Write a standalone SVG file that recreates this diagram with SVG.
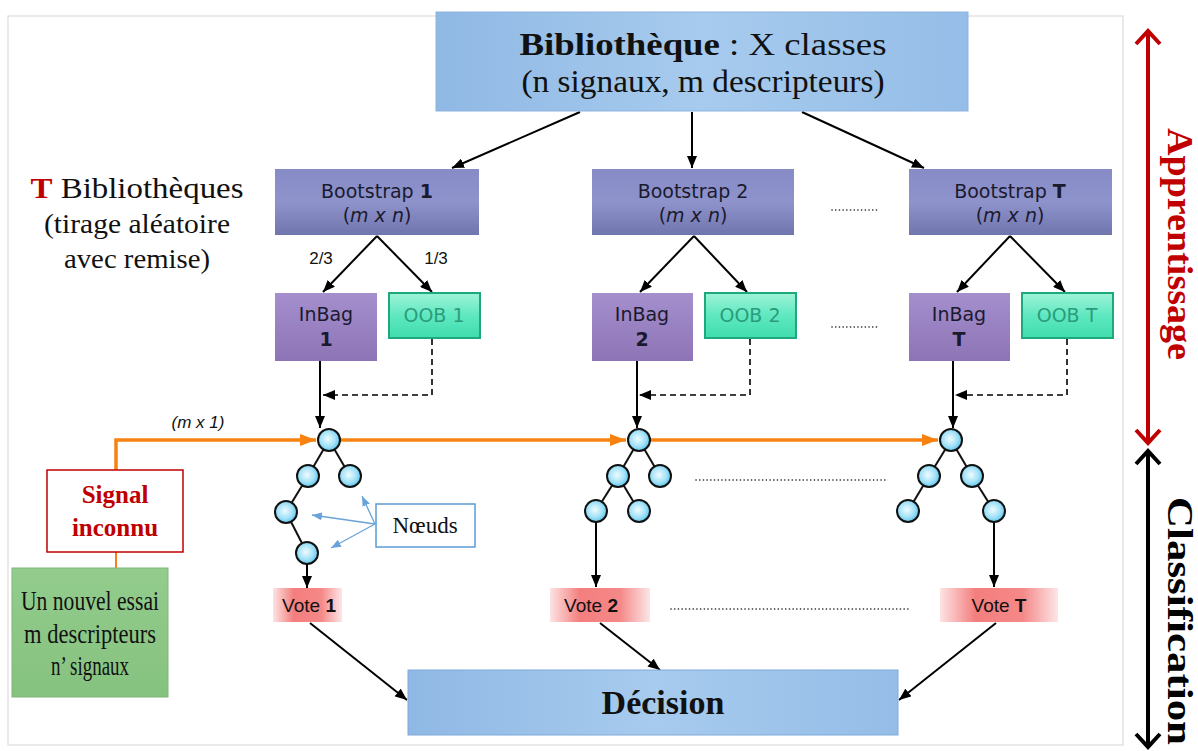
<svg xmlns="http://www.w3.org/2000/svg" width="1198" height="751" viewBox="0 0 1198 751">
<defs>
<style>
.sans{font-family:"DejaVu Sans",Verdana,sans-serif;font-size:19px;fill:#1a1a2e}
.arial{font-family:"Liberation Sans",Arial,sans-serif}
.serif{font-family:"Liberation Serif","Times New Roman",serif}
.conn{stroke:#000;stroke-width:2;fill:none}
.dash{stroke:#000;stroke-width:1.6;fill:none;stroke-dasharray:6 4}
.dots{stroke:#222;stroke-width:1.6;fill:none;stroke-dasharray:0.1 3.6;stroke-linecap:round}
.edge{stroke:#111;stroke-width:2}
.node{fill:url(#gNode);stroke:#111;stroke-width:2}
.orange{stroke:#f7820f;stroke-width:3.5;fill:none}
.blue{stroke:#6aa3d8;stroke-width:1.3;fill:none}
</style>
<linearGradient id="gTop" x1="0" y1="0" x2="1" y2="0">
<stop offset="0" stop-color="#8fb8e4"/><stop offset="0.5" stop-color="#a7cbee"/><stop offset="1" stop-color="#95bde7"/>
</linearGradient>
<linearGradient id="gBoot" x1="0" y1="0" x2="0" y2="1">
<stop offset="0" stop-color="#878bc6"/><stop offset="0.5" stop-color="#8f93cc"/><stop offset="1" stop-color="#7175ad"/>
</linearGradient>
<linearGradient id="gIn" x1="0" y1="0" x2="0" y2="1">
<stop offset="0" stop-color="#a58fcd"/><stop offset="1" stop-color="#8d74b6"/>
</linearGradient>
<linearGradient id="gOob" x1="0" y1="0" x2="0" y2="1">
<stop offset="0" stop-color="#9ff3d8"/><stop offset="0.5" stop-color="#5fe8c0"/><stop offset="1" stop-color="#3fdcae"/>
</linearGradient>
<linearGradient id="gVote" x1="0" y1="0" x2="1" y2="0">
<stop offset="0" stop-color="#fde3e3"/><stop offset="0.3" stop-color="#f47e7e"/><stop offset="0.7" stop-color="#f58888"/><stop offset="1" stop-color="#fde6e6"/>
</linearGradient>
<linearGradient id="gGreen" x1="0" y1="0" x2="0" y2="1">
<stop offset="0" stop-color="#93cc8d"/><stop offset="1" stop-color="#86c27f"/>
</linearGradient>
<radialGradient id="gNode" cx="0.45" cy="0.45" r="0.6">
<stop offset="0" stop-color="#effcff"/><stop offset="0.6" stop-color="#9fe0f7"/><stop offset="1" stop-color="#4bbfe9"/>
</radialGradient>
<marker id="ah" viewBox="0 0 12 10" refX="12" refY="5" markerWidth="12" markerHeight="10" markerUnits="userSpaceOnUse" orient="auto"><path d="M0,0 L12,5 L0,10 z" fill="#000"/></marker>
<marker id="ahO" viewBox="0 0 16 12" refX="16" refY="6" markerWidth="16" markerHeight="12" markerUnits="userSpaceOnUse" orient="auto"><path d="M0,0 L16,6 L0,12 z" fill="#f7820f"/></marker>
<marker id="ahB" viewBox="0 0 10 8" refX="10" refY="4" markerWidth="10" markerHeight="8" markerUnits="userSpaceOnUse" orient="auto"><path d="M0,0 L10,4 L0,8 z" fill="#6aa3d8"/></marker>
</defs>
<rect width="1198" height="751" fill="#fff"/>
<rect x="8" y="16" width="1115" height="729" fill="none" stroke="#dcdcdc" stroke-width="1.2"/>

<g id="connectors">
<path class="conn" d="M580,112 L452,168" marker-end="url(#ah)"/>
<path class="conn" d="M692,112 L692,168" marker-end="url(#ah)"/>
<path class="conn" d="M802,112 L924,168" marker-end="url(#ah)"/>
<path class="conn" d="M377,236 L323,292" marker-end="url(#ah)"/>
<path class="conn" d="M377,236 L432,292" marker-end="url(#ah)"/>
<path class="conn" d="M694,236 L640,292" marker-end="url(#ah)"/>
<path class="conn" d="M694,236 L747,292" marker-end="url(#ah)"/>
<path class="conn" d="M1010,236 L957,292" marker-end="url(#ah)"/>
<path class="conn" d="M1010,236 L1065,292" marker-end="url(#ah)"/>
<path class="conn" d="M320,361 L320,428" marker-end="url(#ah)"/>
<path class="conn" d="M637,361 L637,428" marker-end="url(#ah)"/>
<path class="conn" d="M953,361 L953,428" marker-end="url(#ah)"/>
<path class="dash" d="M432,339 L432,395 L323,395" marker-end="url(#ah)"/>
<path class="dash" d="M750,339 L750,395 L639,395" marker-end="url(#ah)"/>
<path class="dash" d="M1067,339 L1067,395 L955,395" marker-end="url(#ah)"/>
<path class="orange" d="M116,470 L116,440 L316,440" marker-end="url(#ahO)"/>
<path class="orange" d="M340,440 L626,440" marker-end="url(#ahO)"/>
<path class="orange" d="M650,440 L938,440" marker-end="url(#ahO)"/>
<path d="M116,552 L116,568" stroke="#f7820f" stroke-width="2"/>
<path class="conn" d="M307,564 L307,588" marker-end="url(#ah)"/>
<path class="conn" d="M596,522 L596,587" marker-end="url(#ah)"/>
<path class="conn" d="M994,522 L994,587" marker-end="url(#ah)"/>
<path class="conn" d="M310,623 L407,700" marker-end="url(#ah)"/>
<path class="conn" d="M600,623 L660,670" marker-end="url(#ah)"/>
<path class="conn" d="M996,623 L899,700" marker-end="url(#ah)"/>
<path class="blue" d="M375,524 L362,496" marker-end="url(#ahB)"/>
<path class="blue" d="M375,524 L312,515" marker-end="url(#ahB)"/>
<path class="blue" d="M375,524 L331,548" marker-end="url(#ahB)"/>
<path class="dots" d="M832,210 L880,210"/>
<path class="dots" d="M832,327 L880,327"/>
<path class="dots" d="M696,480 L885,480"/>
<path class="dots" d="M671,609 L908,609"/>
<path d="M1148,31 L1148,443" stroke="#c00000" stroke-width="4"/>
<path d="M1136,44 L1148,31 L1160,44 M1136,430 L1148,443 L1160,430" stroke="#c00000" stroke-width="4" fill="none"/>
<path d="M1148,451 L1148,747" stroke="#000" stroke-width="4"/>
<path d="M1136,464 L1148,451 L1160,464 M1136,734 L1148,747 L1160,734" stroke="#000" stroke-width="4" fill="none"/>
</g>

<g id="bibliotheque">
<rect x="436" y="12" width="532" height="99" fill="url(#gTop)" stroke="#8db3de" stroke-width="1"/>
<text class="serif" x="703" y="55" font-size="31" text-anchor="middle" fill="#111" textLength="367" lengthAdjust="spacingAndGlyphs"><tspan font-weight="bold">Bibliothèque</tspan> : X classes</text>
<text class="serif" x="703" y="92" font-size="31" text-anchor="middle" fill="#111" textLength="363" lengthAdjust="spacingAndGlyphs">(n signaux, m descripteurs)</text>
</g>

<g id="t-bibliotheques">
<text class="serif" x="137" y="198" font-size="30" text-anchor="middle" fill="#111" textLength="213" lengthAdjust="spacingAndGlyphs"><tspan font-weight="bold" fill="#c00000">T</tspan> Bibliothèques</text>
<text class="serif" x="137" y="233" font-size="28" text-anchor="middle" fill="#111" textLength="186" lengthAdjust="spacingAndGlyphs">(tirage aléatoire</text>
<text class="serif" x="137" y="268" font-size="28" text-anchor="middle" fill="#111" textLength="146" lengthAdjust="spacingAndGlyphs">avec remise)</text>
</g>

<g id="bootstrap1">
<rect x="275" y="169" width="204" height="66" fill="url(#gBoot)"/>
<text class="sans" x="377" y="198" text-anchor="middle">Bootstrap <tspan font-weight="bold">1</tspan></text>
<text class="sans" x="377" y="222" text-anchor="middle">(<tspan font-style="italic">m  x  n</tspan>)</text>
</g>
<g id="bootstrap2">
<rect x="592" y="169" width="202" height="66" fill="url(#gBoot)"/>
<text class="sans" x="693" y="198" text-anchor="middle">Bootstrap 2</text>
<text class="sans" x="693" y="222" text-anchor="middle">(<tspan font-style="italic">m  x  n</tspan>)</text>
</g>
<g id="bootstrapT">
<rect x="909" y="169" width="203" height="66" fill="url(#gBoot)"/>
<text class="sans" x="1010" y="198" text-anchor="middle">Bootstrap <tspan font-weight="bold">T</tspan></text>
<text class="sans" x="1010" y="222" text-anchor="middle">(<tspan font-style="italic">m  x  n</tspan>)</text>
</g>

<g id="labels-split">
<text class="arial" x="321" y="264" font-size="17" text-anchor="middle" fill="#111">2/3</text>
<text class="arial" x="436" y="264" font-size="17" text-anchor="middle" fill="#111">1/3</text>
</g>

<g id="inbag1">
<rect x="275" y="293" width="102" height="68" fill="url(#gIn)"/>
<text class="sans" x="326" y="321" text-anchor="middle">InBag</text>
<text class="sans" x="326" y="346" text-anchor="middle" font-weight="bold">1</text>
</g>
<g id="oob1">
<rect x="389" y="293" width="91" height="45" fill="url(#gOob)" stroke="#1ea97c" stroke-width="2"/>
<text class="sans" x="434" y="322" text-anchor="middle" style="fill:#2a9c7c">OOB 1</text>
</g>
<g id="inbag2">
<rect x="592" y="293" width="101" height="68" fill="url(#gIn)"/>
<text class="sans" x="642" y="321" text-anchor="middle">InBag</text>
<text class="sans" x="642" y="346" text-anchor="middle" font-weight="bold">2</text>
</g>
<g id="oob2">
<rect x="705" y="293" width="91" height="45" fill="url(#gOob)" stroke="#1ea97c" stroke-width="2"/>
<text class="sans" x="750" y="322" text-anchor="middle" style="fill:#2a9c7c">OOB 2</text>
</g>
<g id="inbagT">
<rect x="909" y="293" width="101" height="68" fill="url(#gIn)"/>
<text class="sans" x="959" y="321" text-anchor="middle">InBag</text>
<text class="sans" x="959" y="346" text-anchor="middle" font-weight="bold">T</text>
</g>
<g id="oobT">
<rect x="1022" y="293" width="91" height="45" fill="url(#gOob)" stroke="#1ea97c" stroke-width="2"/>
<text class="sans" x="1067" y="322" text-anchor="middle" style="fill:#2a9c7c">OOB T</text>
</g>

<g id="label-mx1">
<text class="arial" x="198" y="428" font-size="17" text-anchor="middle" font-style="italic" fill="#111">(m x 1)</text>
</g>

<g id="tree1">
<line class="edge" x1="329" y1="440" x2="308" y2="476"/>
<line class="edge" x1="329" y1="440" x2="350" y2="476"/>
<line class="edge" x1="308" y1="476" x2="286" y2="512"/>
<line class="edge" x1="286" y1="512" x2="307" y2="553"/>
<circle class="node" cx="329" cy="440" r="11"/>
<circle class="node" cx="308" cy="476" r="11"/>
<circle class="node" cx="350" cy="476" r="11"/>
<circle class="node" cx="286" cy="512" r="11"/>
<circle class="node" cx="307" cy="553" r="11"/>
</g>
<g id="tree2">
<line class="edge" x1="639" y1="440" x2="618" y2="476"/>
<line class="edge" x1="639" y1="440" x2="660" y2="476"/>
<line class="edge" x1="618" y1="476" x2="596" y2="511"/>
<line class="edge" x1="618" y1="476" x2="639" y2="511"/>
<circle class="node" cx="639" cy="440" r="11"/>
<circle class="node" cx="618" cy="476" r="11"/>
<circle class="node" cx="660" cy="476" r="11"/>
<circle class="node" cx="596" cy="511" r="11"/>
<circle class="node" cx="639" cy="511" r="11"/>
</g>
<g id="treeT">
<line class="edge" x1="951" y1="440" x2="929" y2="476"/>
<line class="edge" x1="951" y1="440" x2="972" y2="476"/>
<line class="edge" x1="929" y1="476" x2="908" y2="511"/>
<line class="edge" x1="972" y1="476" x2="994" y2="511"/>
<circle class="node" cx="951" cy="440" r="11"/>
<circle class="node" cx="929" cy="476" r="11"/>
<circle class="node" cx="972" cy="476" r="11"/>
<circle class="node" cx="908" cy="511" r="11"/>
<circle class="node" cx="994" cy="511" r="11"/>
</g>

<g id="noeuds">
<rect x="376" y="504" width="99" height="43" fill="#fff" stroke="#5b9bd5" stroke-width="1.5"/>
<text class="serif" x="425" y="533" font-size="23" text-anchor="middle" fill="#111">Nœuds</text>
</g>

<g id="signal-inconnu">
<rect x="47" y="470" width="136" height="82" fill="#fff" stroke="#c00000" stroke-width="1.5"/>
<text class="serif" x="115" y="503" font-size="25" font-weight="bold" text-anchor="middle" fill="#c00000">Signal</text>
<text class="serif" x="115" y="536" font-size="25" font-weight="bold" text-anchor="middle" fill="#c00000">inconnu</text>
</g>

<g id="nouvel-essai">
<rect x="12" y="568" width="156" height="129" fill="url(#gGreen)" stroke="#7fb679" stroke-width="1"/>
<text class="serif" x="90" y="610" font-size="27" text-anchor="middle" fill="#111" textLength="138" lengthAdjust="spacingAndGlyphs">Un nouvel essai</text>
<text class="serif" x="90" y="643" font-size="27" text-anchor="middle" fill="#111" textLength="132" lengthAdjust="spacingAndGlyphs">m descripteurs</text>
<text class="serif" x="90" y="675" font-size="27" text-anchor="middle" fill="#111" textLength="78" lengthAdjust="spacingAndGlyphs">n’ signaux</text>
</g>

<g id="vote1">
<rect x="273" y="588" width="69" height="34" fill="url(#gVote)"/>
<text class="arial" x="309" y="612" font-size="19" text-anchor="middle" fill="#111">Vote <tspan font-weight="bold">1</tspan></text>
</g>
<g id="vote2">
<rect x="550" y="588" width="100" height="34" fill="url(#gVote)"/>
<text class="arial" x="591" y="612" font-size="19" text-anchor="middle" fill="#111">Vote <tspan font-weight="bold">2</tspan></text>
</g>
<g id="voteT">
<rect x="940" y="588" width="118" height="34" fill="url(#gVote)"/>
<text class="arial" x="999" y="612" font-size="19" text-anchor="middle" fill="#111">Vote <tspan font-weight="bold">T</tspan></text>
</g>

<g id="decision">
<rect x="408" y="670" width="490" height="65" fill="url(#gTop)" stroke="#7faad9" stroke-width="1"/>
<text class="serif" x="663" y="714" font-size="34" font-weight="bold" text-anchor="middle" fill="#111">Décision</text>
</g>

<g id="phases">
<text class="serif" transform="translate(1168,244) rotate(90)" x="0" y="0" font-size="36" font-weight="bold" text-anchor="middle" fill="#c00000" textLength="232" lengthAdjust="spacingAndGlyphs">Apprentissage</text>
<text class="serif" transform="translate(1168,621) rotate(90)" x="0" y="0" font-size="36" font-weight="bold" text-anchor="middle" fill="#000" textLength="248" lengthAdjust="spacingAndGlyphs">Classification</text>
</g>
</svg>
